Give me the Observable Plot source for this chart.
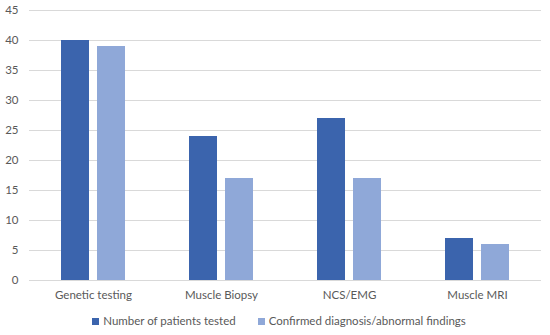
<!DOCTYPE html>
<html><head><meta charset="utf-8">
<script src="https://cdn.jsdelivr.net/npm/d3@7"></script>
<script src="https://cdn.jsdelivr.net/npm/@observablehq/plot@0.6"></script>
<style>
body{margin:0;background:#fff;font-family:Lato,"Open Sans",sans-serif;}
#legend{display:flex;justify-content:center;gap:22px;font-size:11.5px;color:#595959;margin-top:9px;padding-left:8px}
#legend span.sw{display:inline-block;width:7px;height:7px;margin-right:4px;vertical-align:0px}
</style></head><body>
<div id="chart"></div>
<div id="legend"></div>
<script>
const categories = ["Genetic testing","Muscle Biopsy","NCS/EMG","Muscle MRI"];
const seriesNames = ["Number of patients tested","Confirmed diagnosis/abnormal findings"];
const tested = [40,24,27,7];
const confirmed = [39,17,17,6];
const colors = ["#3b64ad","#8fa8d8"];
const yTicks = [0,5,10,15,20,25,30,35,40,45];

const data = [];
categories.forEach((c,i)=>{
  data.push({category:c, series:seriesNames[0], value:tested[i]});
  data.push({category:c, series:seriesNames[1], value:confirmed[i]});
});

const chart = Plot.plot({
  width:550, height:305,
  marginTop:10, marginBottom:25, marginLeft:27, marginRight:8,
  style:{fontFamily:"Lato, 'Open Sans', sans-serif", fontSize:"11.5px", color:"#595959"},
  fx:{domain:categories, padding:0, label:null, axis:null},
  x:{domain:seriesNames, paddingInner:0.21, paddingOuter:0.85, axis:null},
  y:{domain:[0,45], ticks:yTicks, label:null},
  color:{domain:seriesNames, range:colors},
  marks:[
    Plot.gridY(yTicks,{stroke:"#d9d9d9", strokeOpacity:1, strokeWidth:1}),
    Plot.axisY(yTicks,{tickSize:0, tickPadding:11, label:null, fill:"#595959"}),
    Plot.barY(data,{fx:"category", x:"series", y:"value", fill:"series"}),
    Plot.axisFx({tickSize:0, tickPadding:10, label:null, fill:"#595959", anchor:"bottom"})
  ]
});
document.getElementById("chart").appendChild(chart);

const lg = document.getElementById("legend");
seriesNames.forEach((s,i)=>{
  const d = document.createElement("div");
  d.innerHTML = `<span class="sw" style="background:${colors[i]}"></span>${s}`;
  lg.appendChild(d);
});
</script>
</body></html>
